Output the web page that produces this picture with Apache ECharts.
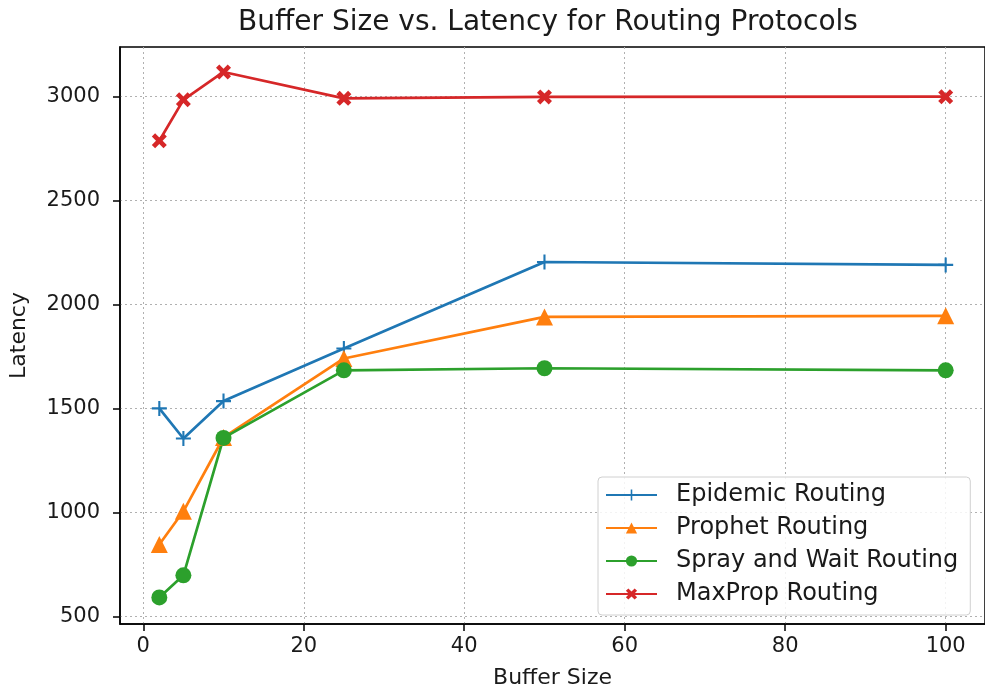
<!DOCTYPE html>
<html>
<head>
<meta charset="utf-8">
<script src="https://cdn.jsdelivr.net/npm/echarts@6/dist/echarts.min.js"></script>
<style>
html,body{margin:0;padding:0;background:#fff;}
#chart{width:985px;height:694px;}
</style>
</head>
<body>
<div id="chart"></div>
<script>
const bufferSizes = [2, 5, 10, 25, 50, 100];
const epidemic = [1500, 1355, 1535, 1788, 2204, 2190];
const prophet = [845, 1005, 1360, 1740, 1940, 1945];
const sprayWait = [591, 697, 1358, 1683, 1693, 1683];
const maxProp = [2787, 2984, 3118, 2991, 2998, 2999];
const xTicks = [0, 20, 40, 60, 80, 100];
const yTicks = [500, 1000, 1500, 2000, 2500, 3000];
const seriesNames = ['Epidemic Routing', 'Prophet Routing', 'Spray and Wait Routing', 'MaxProp Routing'];
const colors = ['#1f77b4', '#ff7f0e', '#2ca02c', '#d62728'];

const plusPath = 'path://M4.3,0H5.7V4.3H10V5.7H5.7V10H4.3V5.7H0V4.3H4.3Z';
const xPath = 'path://M0,2.2L2.2,0L5,2.8L7.8,0L10,2.2L7.2,5L10,7.8L7.8,10L5,7.2L2.2,10L0,7.8L2.8,5Z';

function pairs(ys) { return bufferSizes.map((x, i) => [x, ys[i]]); }

const fontFam = 'DejaVu Sans';
const markers = [
  {symbol: plusPath, size: 15},
  {symbol: 'triangle', size: 17},
  {symbol: 'circle', size: 16},
  {symbol: xPath, size: 15}
];
const datasets = [epidemic, prophet, sprayWait, maxProp];

const chart = echarts.init(document.getElementById('chart'), null, {renderer: 'canvas'});
chart.setOption({
  animation: false,
  backgroundColor: '#fff',
  title: {
    text: 'Buffer Size vs. Latency for Routing Protocols',
    left: 543,
    top: 4,
    textAlign: 'center',
    textStyle: {fontFamily: fontFam, fontSize: 28, fontWeight: 'normal', color: '#1a1a1a'}
  },
  grid: {
    left: 119, top: 47, width: 866, height: 579,
    show: true, borderColor: '#000', borderWidth: 1.5, backgroundColor: 'transparent',
    containLabel: false
  },
  legend: {
    orient: 'vertical',
    left: 598, top: 477,
    data: seriesNames,
    itemWidth: 51, itemHeight: 14, itemGap: 7,
    padding: [5, 12, 8, 7],
    backgroundColor: 'rgba(255,255,255,0.85)',
    borderColor: '#d0d0d0', borderWidth: 1, borderRadius: 4,
    textStyle: {fontFamily: fontFam, fontSize: 24, color: '#1a1a1a', lineHeight: 26, padding: [0, 0, 0, 14]}
  },
  xAxis: {
    type: 'value', min: -2.9, max: 104.9,
    name: 'Buffer Size', nameLocation: 'middle', nameGap: 43,
    nameTextStyle: {fontFamily: fontFam, fontSize: 22, color: '#1a1a1a'},
    axisLine: {show: true, onZero: false, lineStyle: {color: '#000', width: 1.5}},
    axisTick: {show: true, length: 7, customValues: xTicks, lineStyle: {color: '#000', width: 1.5}},
    axisLabel: {customValues: xTicks, margin: 12, fontFamily: fontFam, fontSize: 21, color: '#1a1a1a',
      formatter: v => String(v)},
    splitLine: {show: true, lineStyle: {color: '#b0b0b0', type: [2, 3], width: 1}}
  },
  yAxis: {
    type: 'value', min: 463, max: 3238,
    name: 'Latency', nameLocation: 'middle', nameGap: 90, nameRotate: 90,
    nameTextStyle: {fontFamily: fontFam, fontSize: 22, color: '#1a1a1a'},
    axisLine: {show: true, onZero: false, lineStyle: {color: '#000', width: 1.5}},
    axisTick: {show: true, length: 7, customValues: yTicks, lineStyle: {color: '#000', width: 1.5}},
    axisLabel: {customValues: yTicks, margin: 20, fontFamily: fontFam, fontSize: 21, color: '#1a1a1a',
      formatter: v => String(v)},
    splitLine: {show: true, lineStyle: {color: '#b0b0b0', type: [2, 3], width: 1}}
  },
  series: seriesNames.map((name, i) => ({
    name: name,
    type: 'line',
    data: pairs(datasets[i]),
    symbol: markers[i].symbol,
    symbolSize: markers[i].size,
    showAllSymbol: true,
    lineStyle: {color: colors[i], width: 2.7},
    itemStyle: {color: colors[i], borderWidth: 0},
    emphasis: {disabled: true}
  }))
});
</script>
</body>
</html>
